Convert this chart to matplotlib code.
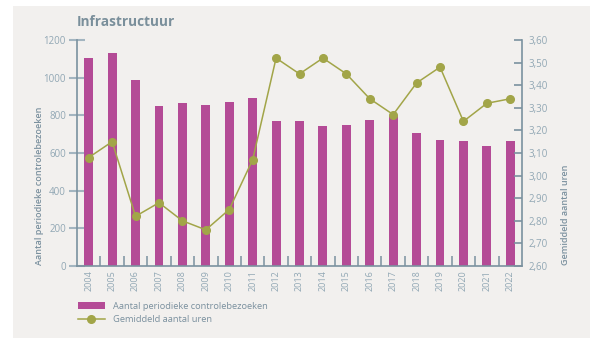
import matplotlib
matplotlib.use("Agg")
import matplotlib.pyplot as plt
from matplotlib.patches import Rectangle

# Periodic inspections and average hours per year
years = [str(y) for y in range(2004, 2023)]
bezoeken = [1106, 1129, 989, 851, 867, 857, 873, 894, 772, 772,
            745, 750, 777, 804, 708, 671, 665, 639, 665]
uren = [3.08, 3.15, 2.82, 2.88, 2.80, 2.76, 2.85, 3.07, 3.52, 3.45,
        3.52, 3.45, 3.34, 3.27, 3.41, 3.48, 3.24, 3.32, 3.34]
left_ticks = [0, 200, 400, 600, 800, 1000, 1200]
right_ticks = [2.6, 2.7, 2.8, 2.9, 3.0, 3.1, 3.2, 3.3, 3.4, 3.5, 3.6]

bar_col = "#b44b96"
line_col = "#a2a548"
axis_col = "#7b929f"
tick_col = "#91a7b4"
text_col = "#7a909e"
bg = "#f2f0ee"

plt.rcParams["font.family"] = ["Open Sans", "DejaVu Sans"]

W, H = 590, 338
fig = plt.figure(figsize=(5.9, 3.38), dpi=100)
# grey panel behind the chart
fig.add_artist(Rectangle((13 / W, 0.0), 1.0, 332 / H, transform=fig.transFigure,
                         facecolor=bg, edgecolor="none", zorder=-10))

ax = fig.add_axes([77 / W, 1 - 266 / H, 445 / W, 226 / H])
ax.set_facecolor("none")
x = list(range(len(years)))
bars = ax.bar(x, bezoeken, width=0.38, color=bar_col, zorder=2,
              label="Aantal periodieke controlebezoeken")
ax.set_xlim(-0.5, len(years) - 0.5)
ax.set_ylim(0, 1200)
ax.set_yticks(left_ticks)
ax.set_xticks(x)
ax.set_xticklabels(years, rotation=90)
ax.set_xticks([i + 0.5 for i in x[:-1]], minor=True)
ax.tick_params(axis="x", which="major", length=0, pad=3, labelsize=6.5, labelcolor=tick_col)
ax.tick_params(axis="x", which="minor", direction="in", length=7, width=1.1, color=axis_col)
ax.tick_params(axis="y", direction="inout", length=12, width=1.5, color="#a3b5c0",
               labelsize=7, labelcolor=tick_col, pad=2)
for s in ["top", "right"]:
    ax.spines[s].set_visible(False)
for s in ["left", "bottom"]:
    ax.spines[s].set_color(axis_col)
    ax.spines[s].set_linewidth(1.2)

ax2 = ax.twinx()
ax2.set_facecolor("none")
ln, = ax2.plot(x, uren, color=line_col, lw=1.1, marker="o", markersize=5.5, zorder=3,
               label="Gemiddeld aantal uren")
ax2.set_ylim(2.6, 3.6)
ax2.set_yticks(right_ticks)
ax2.set_yticklabels([f"{v:.2f}".replace(".", ",") for v in right_ticks])
ax2.tick_params(axis="y", direction="in", length=6, width=1.2, color=axis_col,
                labelsize=7, labelcolor=tick_col, pad=5)
for s in ["top", "left", "bottom"]:
    ax2.spines[s].set_visible(False)
ax2.spines["right"].set_color(axis_col)
ax2.spines["right"].set_linewidth(1.2)

# axis titles sit at the bottom of each axis
fig.text(40 / W, 1 - 265 / H, "Aantal periodieke controlebezoeken", rotation=90,
         ha="center", va="bottom", fontsize=6.5, fontweight=600, color=text_col)
fig.text(566 / W, 1 - 265 / H, "Gemiddeld aantal uren", rotation=90,
         ha="center", va="bottom", fontsize=6.5, fontweight=600, color=text_col)

fig.text(77 / W, 1 - 22 / H, "Infrastructuur", fontsize=9.8, fontweight="bold",
         color="#7a8f9b", va="center", ha="left")

leg = fig.legend([bars, ln], [bars.get_label(), ln.get_label()], loc="upper left",
                 bbox_to_anchor=(78 / W, 1 - 302 / H), frameon=False, fontsize=6.7,
                 handlelength=2.9, handleheight=0.8, labelspacing=0.45, handletextpad=0.85,
                 borderpad=0, borderaxespad=0)
for t in leg.get_texts():
    t.set_color(text_col)

fig.savefig("out.png", dpi=100)
